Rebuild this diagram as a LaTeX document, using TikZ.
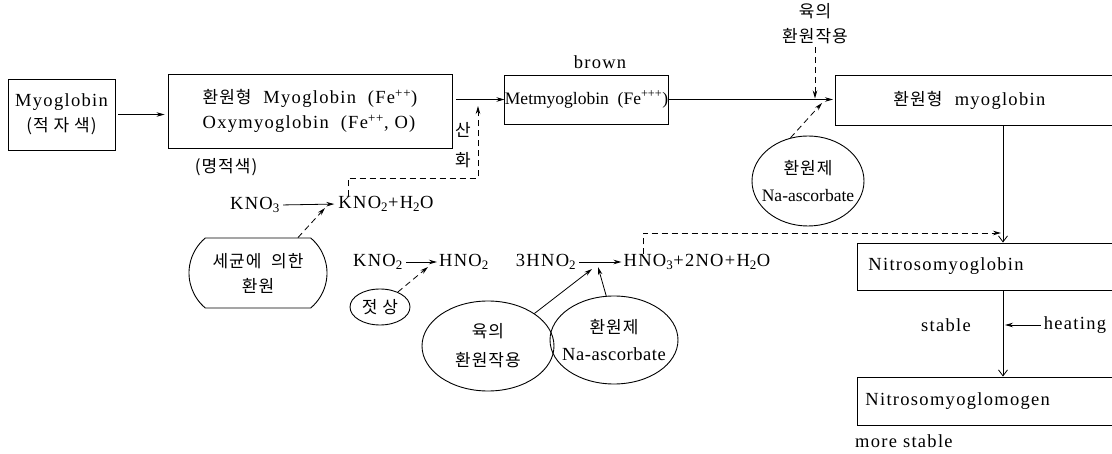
\documentclass[tikz,border=0pt]{standalone}
\usepackage{fontspec}
\setmainfont{Liberation Serif}[LetterSpace=7]
\newfontfamily\krfont{Noto Sans CJK KR}[LetterSpace=6]
\newcommand{\K}[1]{{\krfont\fontsize{17}{21}\selectfont #1}}
\newcommand{\tight}{\addfontfeatures{LetterSpace=0}}
\usetikzlibrary{arrows.meta,shapes.geometric,shapes.misc,calc}
\begin{document}
\begin{tikzpicture}[x=1pt,y=-1pt,
  every node/.style={font=\fontsize{18.5}{25}\selectfont, inner sep=0pt},
  box/.style={draw, line width=0.9pt},
  ell/.style={draw, ellipse, line width=0.9pt, align=center, inner sep=-40pt},
  ln/.style={line width=0.8pt},
  tip/.style={-{Stealth[length=8pt,width=4.5pt]}},
  vtip/.style={-{Straight Barb[length=6pt,width=9pt]}},
  dsh/.style={dash pattern=on 6pt off 4pt}]
\useasboundingbox (0,0) rectangle (1112,454);
\clip (0,0) rectangle (1112,454);

% top row
\node[box, minimum width=107pt, minimum height=71pt, align=center] (mb) at (61.5,114.5) {Myoglobin\\\K{(적 자 색)}};
\node[box, minimum width=284pt, minimum height=74pt, align=left] (rm) at (310,111) {\K{환원형}~ Myoglobin~ (Fe\textsuperscript{++})\\Oxymyoglobin~ (Fe\textsuperscript{++}, O)};
\node (mj) at (226,167) {\K{(명적색)}};
\node[box, minimum width=163pt, minimum height=49pt] (met) at (586.5,99.5) {\tight\fontsize{17.5}{20}\selectfont Metmyoglobin~ (Fe\textsuperscript{+++})};
\node (brown) at (600,62) {brown};
\node[box, anchor=west, text width=240pt, inner xsep=58pt, minimum height=50pt, align=left] (rm2) at (835,100) {\K{환원형}~ myoglobin};
\node[align=center] (yk) at (815,24) {\K{육의}\\\K{환원작용}};
\node[ell, minimum width=112pt, minimum height=90pt] (as1) at (808,181) {\K{환원제}\\[2pt]{\tight\fontsize{17.5}{21}\selectfont Na-ascorbate}};

% right column
\node[box, anchor=west, text width=240pt, inner xsep=11pt, minimum height=47pt, align=left] (nm) at (857,266.5) {Nitrosomyoglobin};
\node[box, anchor=west, text width=240pt, inner xsep=8pt, minimum height=48pt, align=left] (nmg) at (857,401) {Nitrosomyoglomogen};
\node (stb) at (946,325) {stable};
\node (heat) at (1075,325) {heating};
\node[anchor=west] (ms) at (855,441) {more stable};
\coordinate (vx) at (1003,0);

% lower left
\node (kno3) at (255,205) {KNO\textsubscript{3}};
\node (kno2h) at (386,204) {KNO\textsubscript{2}+H\textsubscript{2}O};
\node (san) at (463,130) {\K{산}};
\node (hwa) at (463,160) {\K{화}};
\node[draw, rounded rectangle, rounded rectangle arc length=100, minimum width=138pt, minimum height=70pt, align=center, line width=0.9pt] (sg) at (258,273) {\K{세균에~ 의한}\\\K{환원}};
\node (kno2) at (378,262) {KNO\textsubscript{2}};
\node (hno2) at (464,262) {HNO\textsubscript{2}};
\node[ell, minimum width=60pt, minimum height=36pt] (js) at (380,307) {\K{젓 상}};
\node (h3) at (546,262) {3HNO\textsubscript{2}};
\node (prod) at (697,262) {HNO\textsubscript{3}+2NO+H\textsubscript{2}O};
\node[ell, minimum width=132pt, minimum height=90pt] (yk2) at (488,346) {\K{육의}\\[4pt]\K{환원작용}};
\node[ell, minimum width=128pt, minimum height=88pt] (as2) at (614,340) {\K{환원제}\\[2pt]{\addfontfeatures{LetterSpace=3}Na-ascorbate}};

% coordinates
\coordinate (c1) at (348,178);
\coordinate (c2) at (478,106);
\coordinate (m1) at (822,103);
\coordinate (t1) at (325,208);
\coordinate (t2) at (428,267);
\coordinate (t3) at (592,269);
\coordinate (t4) at (598,267);
\coordinate (c3) at (643,233);

% connectors
\draw[ln,tip,shorten <=3pt,shorten >=3pt] (mb.east) -- (mb.east -| rm.west);
\draw[ln,tip,shorten <=4pt] (rm.east |- met.west) -- (met.west);
\draw[ln,tip,shorten >=2pt] (met.east) -- (met.east -| rm2.west);
\draw[ln,dsh,tip,shorten <=3pt,shorten >=1pt] (yk.south) -- (yk.south |- met.east);
\draw[ln,dsh,tip] (as1.112) -- (m1);
\draw[ln,vtip] (vx |- rm2.south) -- (vx |- nm.north);
\draw[ln,vtip] (vx |- nm.south) -- (vx |- nmg.north);
\draw[ln,tip,shorten <=3pt,shorten >=2pt] (heat.west) -- (vx |- heat.west);
\draw[ln,tip,shorten <=3pt,shorten >=4pt] (kno3.east) -- (kno2h.west);
\draw[ln,dsh,tip] (c1 |- kno2h.north) -- (c1) -| (c2);
\draw[ln,dsh,tip] ($(sg.north)+(40,0)$) -- (t1);
\draw[ln,tip,shorten <=3pt,shorten >=2pt] (kno2.east) -- (hno2.west);
\draw[ln,dsh,tip] (js.40) -- (t2);
\draw[ln,tip,shorten <=3pt,shorten >=2pt] (h3.east) -- (prod.west);
\draw[ln,tip] (yk2.35) -- (t3);
\draw[ln,tip] (as2.100) -- (t4);
\draw[ln,dsh,tip,shorten >=2pt] (c3 |- prod.north) -- (c3) -- (vx |- c3);
\end{tikzpicture}
\end{document}
